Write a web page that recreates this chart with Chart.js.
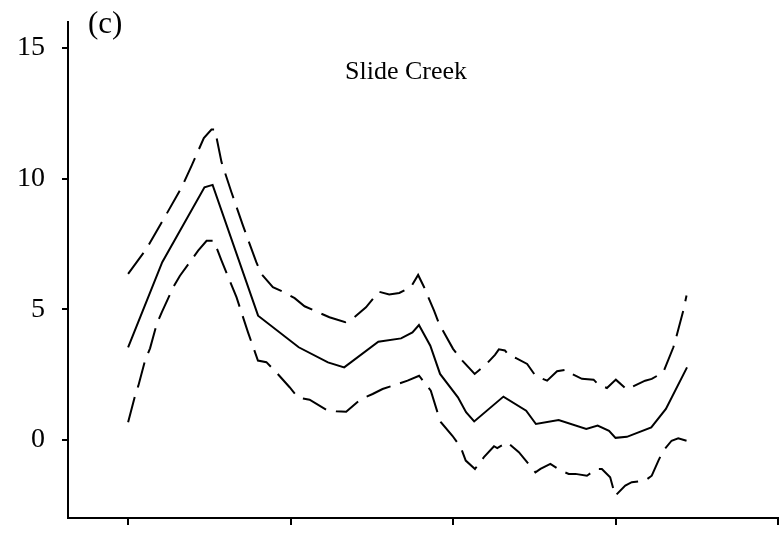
<!DOCTYPE html>
<html>
<head>
<meta charset="utf-8">
<script src="https://cdn.jsdelivr.net/npm/chart.js@4"></script>
<style>
  html, body { margin: 0; padding: 0; background: #fff; }
  #wrap { width: 782px; height: 537px; }
</style>
</head>
<body>
<div id="wrap"><canvas id="chart"></canvas></div>
<script>
// values (x in axis units, ticks every 10)
const meanX = [0, 2.1, 4.7, 5.2, 8.0, 10.5, 12.3, 13.3, 15.4, 16.8, 17.5, 17.9, 18.6, 19.2, 20.3, 20.8, 21.3, 23.1, 24.5, 25.1, 26.5, 28.2, 28.9, 29.6, 30.0, 30.7, 32.2, 33.1, 34.4]
const meanY = [3.54, 6.8, 9.67, 9.76, 4.75, 3.54, 2.96, 2.77, 3.75, 3.88, 4.11, 4.39, 3.6, 2.52, 1.62, 1.05, 0.70, 1.65, 1.11, 0.60, 0.75, 0.41, 0.54, 0.34, 0.07, 0.11, 0.47, 1.18, 2.77]

const upperX = [0, 1.13, 2.36, 3.29, 3.91, 4.66, 5.13, 5.34, 5.75, 6.36, 7.07, 7.89, 8.20, 8.91, 9.53, 10.25, 10.86, 12.39, 13.37, 13.93, 14.64, 15.42, 16.07, 16.69, 17.40, 17.85, 18.22, 18.83, 19.14, 20.0, 20.57, 21.33, 22.01, 22.58, 22.82, 23.19, 23.44, 23.85, 24.56, 25.07, 25.79, 26.40, 27.01, 27.32, 27.93, 28.65, 28.96, 29.47, 30.02, 30.69, 31.82, 32.23, 32.94, 33.56, 33.76, 34.17, 34.37]
const upperY = [6.35, 7.31, 8.64, 9.66, 10.5, 11.55, 11.88, 11.88, 10.63, 9.48, 8.2, 6.8, 6.35, 5.84, 5.67, 5.42, 5.11, 4.69, 4.5, 4.69, 5.07, 5.67, 5.56, 5.62, 5.84, 6.31, 5.84, 4.94, 4.44, 3.48, 3.03, 2.52, 2.87, 3.25, 3.46, 3.42, 3.23, 3.13, 2.9, 2.45, 2.26, 2.62, 2.68, 2.52, 2.33, 2.30, 2.10, 1.98, 2.30, 1.92, 2.26, 2.33, 2.58, 3.54, 3.98, 4.94, 5.52]

const lowerX = [0, 0.43, 0.63, 1.04, 1.35, 1.76, 2.07, 2.78, 3.19, 4.31, 4.83, 5.28, 5.75, 6.67, 7.38, 7.99, 8.51, 9.12, 9.94, 10.45, 11.17, 12.19, 12.80, 13.42, 14.34, 15.05, 15.66, 16.48, 17.20, 17.91, 18.63, 19.04, 19.25, 19.96, 20.47, 20.78, 21.35, 21.90, 22.52, 22.72, 23.33, 24.05, 25.07, 25.38, 25.99, 26.61, 27.12, 27.53, 28.24, 28.85, 29.16, 29.67, 29.98, 30.60, 31.0, 31.82, 32.23, 32.64, 32.94, 33.45, 33.86, 34.37]
const lowerY = [0.67, 1.69, 2.07, 3.03, 3.5, 4.43, 4.88, 5.84, 6.28, 7.24, 7.62, 7.62, 6.86, 5.46, 4.11, 3.03, 2.97, 2.58, 2.01, 1.62, 1.53, 1.15, 1.09, 1.07, 1.56, 1.75, 1.94, 2.11, 2.26, 2.45, 1.88, 1.05, 0.67, 0.15, -0.29, -0.8, -1.12, -0.67, -0.25, -0.32, -0.1, -0.48, -1.25, -1.12, -0.93, -1.18, -1.31, -1.31, -1.38, -1.12, -1.12, -1.44, -2.15, -1.76, -1.63, -1.57, -1.38, -0.8, -0.42, -0.04, 0.05, -0.04]

const xTicks = [0, 10, 20, 30, 40]
const yTicks = [0, 5, 10, 15]
const panelLabel = "(c)"
const siteName = "Slide Creek"

const serif = "'Liberation Serif', 'Times New Roman', serif"

function pts(xs, ys){
    return xs.map((x, i) => ({ x, y: ys[i] }))
}

function series(label, xs, ys, dash){
    return {
        label,
        data: pts(xs, ys),
        borderColor: '#000',
        borderWidth: 2,
        borderDash: dash,
        pointRadius: 0,
        tension: 0,
        fill: false,
    }
}

const textPlugin = {
    id: 'panelText',
    afterDraw(chart){
        const ctx = chart.ctx
        ctx.save()
        ctx.fillStyle = '#000'
        ctx.textBaseline = 'middle'
        ctx.font = '31px ' + serif
        ctx.fillText(panelLabel, 88, 25)
        ctx.font = '26px ' + serif
        ctx.fillText(siteName, 345, 72)
        ctx.restore()
    }
}

new Chart(document.getElementById('chart'), {
    type: 'line',
    data: {
        datasets: [
            series('mean', meanX, meanY, []),
            series('upper', upperX, upperY, [26, 10]),
            series('lower', lowerX, lowerY, [26, 10]),
        ]
    },
    options: {
        responsive: true,
        maintainAspectRatio: false,
        animation: false,
        layout: { padding: { top: 22, right: 4, left: 0, bottom: 0 } },
        plugins: {
            legend: { display: false },
            tooltip: { enabled: false },
        },
        scales: {
            x: {
                type: 'linear',
                min: -3.7,
                max: 40,
                afterBuildTicks: (s) => { s.ticks = xTicks.map(v => ({ value: v })) },
                afterFit: (s) => { s.height = 19; s.paddingLeft = 0; s.paddingRight = 0 },
                ticks: { callback: () => '', padding: 0 },
                grid: { drawOnChartArea: false, drawTicks: true, tickLength: 7, color: '#000', lineWidth: 2 },
                border: { display: true, color: '#000', width: 2 },
            },
            y: {
                min: -3,
                max: 16,
                afterBuildTicks: (s) => { s.ticks = yTicks.map(v => ({ value: v })) },
                afterFit: (s) => { s.width = 68; s.paddingTop = 0; s.paddingBottom = 0 },
                ticks: { color: '#000', padding: 17, font: { family: serif, size: 28 } },
                grid: { drawOnChartArea: false, drawTicks: true, tickLength: 6, color: '#000', lineWidth: 2 },
                border: { display: true, color: '#000', width: 2 },
            }
        }
    },
    plugins: [textPlugin]
})
</script>
</body>
</html>
